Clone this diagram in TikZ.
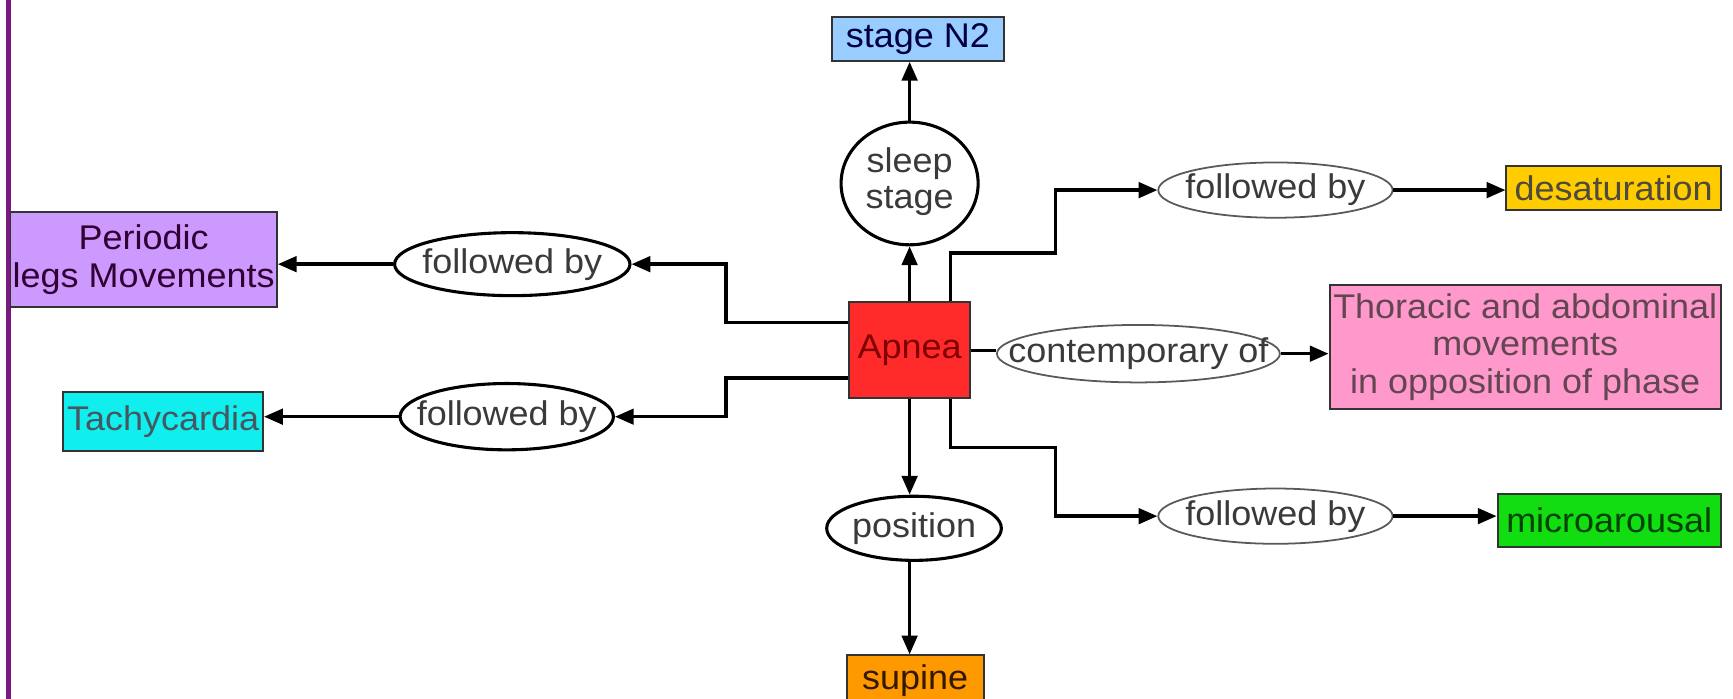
\documentclass[tikz,border=0pt]{standalone}
\usepackage{fontspec}
\setmainfont[FakeStretch=1.05]{Liberation Sans}
\usetikzlibrary{shapes.geometric,arrows.meta}
\definecolor{cN}{HTML}{99CCFF}
\definecolor{cP}{HTML}{CC99FF}
\definecolor{cT}{HTML}{11EEEE}
\definecolor{cA}{HTML}{FF2A2A}
\definecolor{cD}{HTML}{FFCC00}
\definecolor{cTh}{HTML}{FF99CC}
\definecolor{cM}{HTML}{11DD11}
\definecolor{cS}{HTML}{FF9900}
\definecolor{purp}{HTML}{7A1A7E}
\definecolor{etxt}{HTML}{3A3A3A}
\newcommand{\ztxt}[1]{\makebox[0pt]{#1}}
\tikzset{
  box/.style={rectangle, draw=black!80, line width=0.9pt, inner sep=0pt, align=center,
    font=\fontsize{15.5}{17}\selectfont},
  thickell/.style={ellipse, draw=black, line width=1.4pt, fill=white, inner sep=0pt,
    text=etxt, font=\fontsize{15.5}{16}\selectfont},
  thinell/.style={ellipse, draw=black!65, line width=0.8pt, fill=white, inner sep=0pt,
    text=etxt, font=\fontsize{15.5}{16}\selectfont},
  arr/.style={line width=1.5pt, -{Triangle[length=8.5pt,width=7pt]}},
  lnk/.style={line width=1.5pt},
}
\begin{document}
\begin{tikzpicture}[x=0.5pt,y=-0.5pt]
\useasboundingbox (0,0) rectangle (1568,632);
\fill[white] (0,0) rectangle (1568,632);
\draw[purp, line width=2.2pt] (8,0) -- (8,632);

% nodes
\node[box, fill=cN, text=black!75!blue, minimum width=77.5pt, minimum height=20pt] (n2) at (830.5,35) {stage N2};
\node[thickell, minimum width=62pt, minimum height=55.5pt] (sleep) at (823,166) {\ztxt{\begin{tabular}{@{}c@{}}sleep\\stage\end{tabular}}};
\node[box, fill=cA, text=red!50!black, minimum width=55pt, minimum height=43.5pt] (apnea) at (823,317) {Apnea};
\node[thinell, minimum width=106pt, minimum height=25pt] (fb1) at (1154,172) {\ztxt{followed by}};
\node[box, fill=cD, text=black!80!yellow, minimum width=97pt, minimum height=20pt] (desat) at (1460,170) {desaturation};
\node[thinell, minimum width=128pt, minimum height=26pt] (cont) at (1030,320) {\ztxt{contemporary of}};
\node[box, fill=cTh, text=black!70!magenta, minimum width=177pt, minimum height=56pt] (thor) at (1380,314) {Thoracic and abdominal\\movements\\in opposition of phase};
\node[thinell, minimum width=106pt, minimum height=25pt] (fb2) at (1154,467) {\ztxt{followed by}};
\node[box, fill=cM, text=green!25!black, minimum width=101pt, minimum height=24pt] (micro) at (1456,471) {microarousal};
\node[thickell, minimum width=79pt, minimum height=29pt] (pos) at (827,478) {\ztxt{position}};
\node[box, fill=cS, text=black!80!orange, minimum width=62pt, minimum height=23pt] (supine) at (828,616) {supine};
\node[box, fill=cP, text=black!60!violet, minimum width=120.5pt, minimum height=43pt] (per) at (130,235) {Periodic\\legs Movements};
\node[thickell, minimum width=106.5pt, minimum height=28.5pt] (fbl1) at (463.5,239) {\ztxt{followed by}};
\node[thickell, minimum width=96.5pt, minimum height=30pt] (fbl2) at (458.5,377) {\ztxt{followed by}};
\node[box, fill=cT, text=black!70!cyan, minimum width=90.5pt, minimum height=26.5pt] (tachy) at (147.5,381.5) {Tachycardia};

% bend coordinates
\coordinate (bA) at (955,229);
\coordinate (bB) at (955,405);
\coordinate (bL1) at (657,239);
\coordinate (bL2) at (657,377);

% connectors
\draw[arr] (apnea.north) -- (sleep.south);
\draw[arr] (sleep.north) -- (sleep.north |- n2.south);
\draw[arr] ([xshift=-9.5pt]apnea.north east) |- (bA) |- (fb1.west);
\draw[arr] (fb1.east) -- (fb1.east -| desat.west);
\draw[lnk] (apnea.east) -- (apnea.east -| cont.west);
\draw[arr] (cont.east) -- (cont.east -| thor.west);
\draw[arr] ([xshift=-9.5pt]apnea.south east) |- (bB) |- (fb2.west);
\draw[arr] (fb2.east) -- (fb2.east -| micro.west);
\draw[arr] (apnea.south) -- (apnea.south |- pos.north);
\draw[arr] (apnea.south |- pos.south) -- (apnea.south |- supine.north);
\draw[arr] ([yshift=12.5pt]apnea.west) -| (bL1) -- (fbl1.east);
\draw[arr] ([yshift=-12.5pt]apnea.west) -| (bL2) -- (fbl2.east);
\draw[arr] (fbl1.west) -- (fbl1.west -| per.east);
\draw[arr] (fbl2.west) -- (fbl2.west -| tachy.east);
\end{tikzpicture}
\end{document}
